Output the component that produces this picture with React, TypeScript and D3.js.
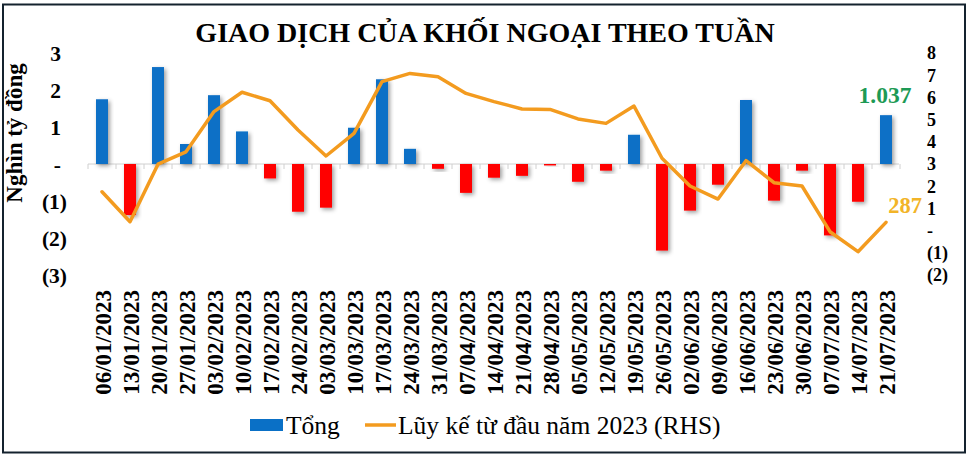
import React from "react";
import * as d3 from "d3";

const categories = [
  "06/01/2023", "13/01/2023", "20/01/2023", "27/01/2023", "03/02/2023", "10/02/2023",
  "17/02/2023", "24/02/2023", "03/03/2023", "10/03/2023", "17/03/2023", "24/03/2023",
  "31/03/2023", "07/04/2023", "14/04/2023", "21/04/2023", "28/04/2023", "05/05/2023",
  "12/05/2023", "19/05/2023", "26/05/2023", "02/06/2023", "09/06/2023", "16/06/2023",
  "23/06/2023", "30/06/2023", "07/07/2023", "14/07/2023", "21/07/2023",
];

const weekly = [
  1.75, -1.38, 2.62, 0.54, 1.86, 0.88, -0.39, -1.29, -1.18, 0.98, 2.29, 0.41, -0.13,
  -0.78, -0.37, -0.32, -0.04, -0.48, -0.18, 0.79, -2.34, -1.26, -0.56, 1.73, -0.99,
  -0.18, -1.93, -1.02, 1.32,
];

const cumulative = [
  1.75, 0.4, 2.99, 3.55, 5.36, 6.23, 5.85, 4.53, 3.36, 4.38, 6.71, 7.08, 6.93, 6.18,
  5.81, 5.48, 5.46, 5.03, 4.83, 5.61, 3.26, 2.01, 1.42, 3.15, 2.16, 2.01, -0.05,
  -0.95, 0.37,
];

const leftTicks = [3, 2, 1, 0, -1, -2, -3];
const rightTicks = [8, 7, 6, 5, 4, 3, 2, 1, 0, -1, -2];

const title = "GIAO DỊCH CỦA KHỐI NGOẠI THEO TUẦN";
const yAxisTitle = "Nghìn tỷ đồng";
const legendBar = "Tổng";
const legendLine = "Lũy kế từ đầu năm 2023 (RHS)";
const lastBarLabel = "1.037";
const lastLineLabel = "287";

const W = 971;
const H = 456;
const FONT = "Liberation Serif, DejaVu Serif, serif";

const fmt = (v: number) => (v === 0 ? "-" : v < 0 ? `(${Math.abs(v)})` : `${v}`);

export default function App() {
  const x = d3.scaleBand<string>().domain(categories).range([88, 900]).padding(0);
  const yL = d3.scaleLinear().domain([-3, 3]).range([275, 53]);
  const yR = d3.scaleLinear().domain([-2, 8]).range([275, 53]);
  const bw = 12;
  const cx = (c: string) => (x(c) as number) + x.bandwidth() / 2;

  const line = d3
    .line<number>()
    .x((_, i) => cx(categories[i]))
    .y((d) => yR(d));

  const n = categories.length;
  const lastC = categories[n - 1];
  const tStyle = { fontFamily: FONT };

  return (
    <svg
      width={W}
      height={H}
      style={{ position: "absolute", left: 0, top: 0, background: "#fff", fontFamily: FONT }}
    >
      <defs>
        <filter id="shadow" x="-50%" y="-50%" width="200%" height="200%">
          <feDropShadow dx="2" dy="2" stdDeviation="2" floodColor="#000" floodOpacity="0.38" />
        </filter>
      </defs>
      <rect x={0} y={0} width={W} height={H} fill="#fff" />
      <rect x={3} y={4.5} width={962} height={448} fill="none" stroke="#14222e" strokeWidth={2} />

      <text x={485} y={42} textAnchor="middle" fontSize={28} fontWeight="bold" fill="#000" style={tStyle}>
        {title}
      </text>

      {/* y axis title */}
      <text
        transform={`translate(22,${133}) rotate(-90)`}
        textAnchor="middle"
        fontSize={23}
        fontWeight="bold"
        fill="#000"
        style={tStyle}
      >
        {yAxisTitle}
      </text>

      {/* left ticks */}
      {leftTicks.map((v) => (
        <text
          key={"l" + v}
          x={v < 0 ? 67 : 61}
          y={yL(v)}
          dy="0.35em"
          textAnchor="end"
          fontSize={21.5}
          fontWeight="bold"
          fill="#000"
          style={tStyle}
        >
          {fmt(v)}
        </text>
      ))}

      {/* right ticks */}
      {rightTicks.map((v) => (
        <text
          key={"r" + v}
          x={927}
          y={yR(v)}
          dy="0.35em"
          textAnchor="start"
          fontSize={18}
          fontWeight="bold"
          fill="#000"
          style={tStyle}
        >
          {fmt(v)}
        </text>
      ))}

      {/* zero axis */}
      <line x1={88} x2={899} y1={yL(0)} y2={yL(0)} stroke="#d0d0d0" strokeWidth={1} />
      {d3.range(n + 1).map((i) => {
        const xx = i < n ? (x(categories[i]) as number) : 900;
        return <line key={"t" + i} x1={xx} x2={xx} y1={yL(0)} y2={yL(0) + 5} stroke="#d0d0d0" strokeWidth={1} />;
      })}

      {/* bars */}
      {weekly.map((v, i) => {
        const c = categories[i];
        const y0 = yL(0);
        const y1 = yL(v);
        return (
          <rect
            key={"b" + i}
            x={cx(c) - bw / 2}
            y={Math.min(y0, y1)}
            width={bw}
            height={Math.max(1, Math.abs(y1 - y0))}
            fill={v >= 0 ? "#0a70c6" : "#ff0000"}
            filter="url(#shadow)"
          />
        );
      })}

      {/* line */}
      <path
        d={line(cumulative) || ""}
        fill="none"
        stroke="#f39b1f"
        strokeWidth={3.5}
        strokeLinejoin="round"
        strokeLinecap="round"
      />

      {/* x labels */}
      {categories.map((c) => (
        <text
          key={"x" + c}
          transform={`translate(${cx(c) + 1},290) rotate(-90)`}
          dy="0.35em"
          textAnchor="end"
          fontSize={23}
          fontWeight="bold"
          fill="#000"
          style={tStyle}
        >
          {c}
        </text>
      ))}

      {/* annotations */}
      <text x={885} y={103} textAnchor="middle" fontSize={23.5} fontWeight="bold" fill="#1d9a55" style={tStyle}>
        {lastBarLabel}
      </text>
      <text
        x={cx(lastC) + 19}
        y={yR(cumulative[n - 1]) - 9}
        textAnchor="middle"
        fontSize={22.5}
        fontWeight="bold"
        fill="#f2b428"
        style={tStyle}
      >
        {lastLineLabel}
      </text>

      {/* legend */}
      <rect x={250} y={419} width={33} height={12} fill="#0a70c6" />
      <text x={286} y={434} fontSize={25.5} fill="#000" style={tStyle}>
        {legendBar}
      </text>
      <line x1={365} x2={396} y1={425} y2={425} stroke="#f39b1f" strokeWidth={3.5} />
      <text x={398} y={434} fontSize={25.5} fill="#000" style={tStyle}>
        {legendLine}
      </text>
    </svg>
  );
}
